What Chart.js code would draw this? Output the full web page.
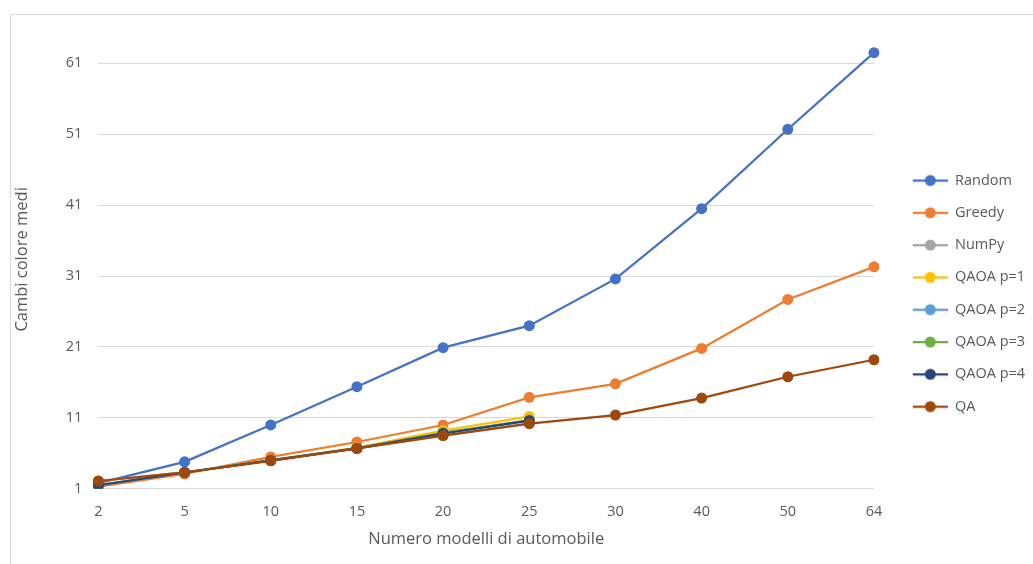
<!DOCTYPE html>
<html>
<head>
<meta charset="utf-8">
<script src="https://cdn.jsdelivr.net/npm/chart.js@4.4.0/dist/chart.umd.min.js"></script>
<style>
  html, body { margin: 0; padding: 0; background: #fff; }
  #wrap { width: 1033px; height: 564px; }
</style>
</head>
<body>
<div id="wrap"><canvas id="myChart"></canvas></div>
<script>
  // categorie (numero modelli) e tick dell'asse y
  const categorie = ['2', '5', '10', '15', '20', '25', '30', '40', '50', '64'];
  const tickY = [1, 11, 21, 31, 41, 51, 61];

  // valori
  const random = [1.8, 4.8, 10.0, 15.4, 20.9, 24.0, 30.6, 40.5, 51.7, 62.5];
  const greedy = [1.3, 3.1, 5.5, 7.6, 10.0, 13.9, 15.8, 20.8, 27.7, 32.3];
  const numpy = [2.1, 3.3, 5.0, 6.7, 8.5, 10.2];
  const qaoaP1 = [1.5, 3.3, 5.0, 6.8, 9.2, 11.2];
  const qaoaP2 = [1.5, 3.3, 5.0, 6.7, 8.9, 10.7];
  const qaoaP3 = [1.5, 3.3, 5.0, 6.7, 8.9, 10.6];
  const qaoaP4 = [1.5, 3.3, 5.0, 6.7, 8.8, 10.6];
  const qa = [2.1, 3.3, 4.95, 6.7, 8.5, 10.2, 11.4, 13.8, 16.8, 19.2];

  const serie = [
    { nome: 'Random', dati: random, colore: '#4472C4' },
    { nome: 'Greedy', dati: greedy, colore: '#ED7D31' },
    { nome: 'NumPy', dati: numpy, colore: '#A5A5A5' },
    { nome: 'QAOA p=1', dati: qaoaP1, colore: '#FFC000' },
    { nome: 'QAOA p=2', dati: qaoaP2, colore: '#5B9BD5' },
    { nome: 'QAOA p=3', dati: qaoaP3, colore: '#70AD47' },
    { nome: 'QAOA p=4', dati: qaoaP4, colore: '#264478' },
    { nome: 'QA', dati: qa, colore: '#9E480E' },
  ];

  // icona della legenda: spazio vuoto a sinistra, poi linea con marcatore
  function iconaLegenda(colore) {
    const c = document.createElement('canvas');
    c.width = 56; c.height = 14;
    const g = c.getContext('2d');
    g.strokeStyle = colore;
    g.lineWidth = 2.25;
    g.beginPath(); g.moveTo(21, 7); g.lineTo(56, 7); g.stroke();
    g.fillStyle = colore;
    g.beginPath(); g.arc(38.5, 7, 5.5, 0, Math.PI * 2); g.fill();
    return c;
  }
  const icone = serie.map(s => iconaLegenda(s.colore));

  const cornice = {
    id: 'cornice',
    beforeDraw(chart) {
      const ctx = chart.ctx;
      ctx.save();
      ctx.strokeStyle = '#d9d9d9';
      ctx.lineWidth = 1;
      ctx.strokeRect(10.5, 14.5, 1100, 600);
      ctx.restore();
    }
  };

  const testo = '#595959';
  const famiglia = "'Open Sans', 'Liberation Sans', sans-serif";
  const font = { family: famiglia, size: 14.5 };

  const config = {
    type: 'line',
    data: {
      labels: categorie,
      datasets: serie.map((s, i) => ({
        label: s.nome,
        data: s.dati,
        borderColor: s.colore,
        backgroundColor: s.colore,
        borderWidth: 2.25,
        pointRadius: 5.5,
        pointHoverRadius: 5.5,
        pointBorderWidth: 0,
        tension: 0,
        order: serie.length - i,
      })),
    },
    options: {
      responsive: true,
      maintainAspectRatio: false,
      animation: false,
      layout: { padding: { top: 30, right: 0, bottom: 15, left: 8 } },
      plugins: {
        tooltip: { enabled: false },
        legend: {
          position: 'right',
          maxWidth: 159,
          // titolo vuoto solo per spostare un po' in basso le voci
          title: { display: true, text: ' ', padding: 0, font: { size: 6.7 } },
          labels: {
            usePointStyle: true,
            pointStyleWidth: 56,
            boxHeight: 14,
            padding: 17.8,
            color: testo,
            font: font,
            sort: (a, b) => a.datasetIndex - b.datasetIndex,
            generateLabels(chart) {
              const items = Chart.defaults.plugins.legend.labels.generateLabels(chart);
              items.forEach(it => { it.pointStyle = icone[it.datasetIndex]; });
              return items;
            },
          },
        },
      },
      scales: {
        x: {
          offset: false,
          grid: { display: false, drawTicks: false },
          border: { display: false },
          ticks: { color: testo, font: font, padding: 14, maxRotation: 0 },
          title: { display: true, text: 'Numero modelli di automobile', color: testo, font: { family: famiglia, size: 16.5 }, padding: { top: -5, bottom: 0 } },
        },
        y: {
          min: 1,
          max: 65.7,
          afterBuildTicks(scale) { scale.ticks = tickY.map(v => ({ value: v })); },
          grid: { color: '#d9d9d9', lineWidth: 1, drawTicks: false },
          border: { display: false },
          ticks: { color: testo, font: font, padding: 16 },
          title: { display: true, text: 'Cambi colore medi', color: testo, font: { family: famiglia, size: 16.5 }, padding: { bottom: 18 } },
        },
      },
    },
    plugins: [cornice],
  };

  const myChart = new Chart(document.getElementById('myChart').getContext('2d'), config);
</script>
</body>
</html>
